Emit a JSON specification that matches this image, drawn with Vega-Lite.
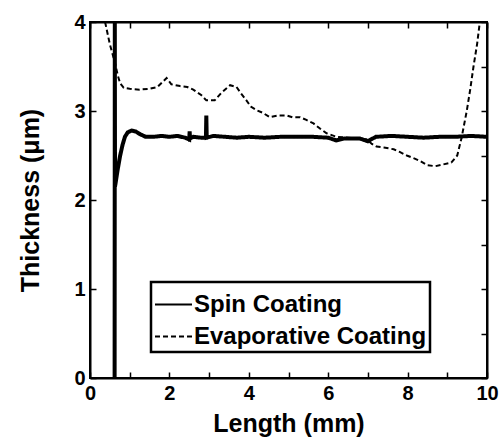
{
  "$schema": "https://vega.github.io/schema/vega-lite/v6.json",
  "autosize": {"type": "none"},
  "padding": {"left": 90, "top": 22, "right": 15, "bottom": 64},
  "width": 397,
  "height": 356,
  "background": "white",
  "config": {
    "view": {"stroke": "black", "strokeWidth": 2},
    "axis": {
      "labelFont": "Liberation Sans", "labelFontSize": 20, "labelFontWeight": "bold", "labelColor": "black",
      "titleFont": "Liberation Sans", "titleFontSize": 25, "titleFontWeight": "bold", "titleColor": "black",
      "grid": false, "labelOverlap": false, "labelFlush": false
    }
  },
  "data": {"values": [
    {"series": "Spin Coating", "x": 0.62, "y": 0},
    {"series": "Spin Coating", "x": 0.625, "y": 4.0},
    {"series": "Spin Coating", "x": 0.63, "y": 2.15},
    {"series": "Spin Coating", "x": 0.7, "y": 2.35},
    {"series": "Spin Coating", "x": 0.76, "y": 2.5},
    {"series": "Spin Coating", "x": 0.82, "y": 2.62},
    {"series": "Spin Coating", "x": 0.88, "y": 2.71},
    {"series": "Spin Coating", "x": 0.95, "y": 2.76},
    {"series": "Spin Coating", "x": 1.05, "y": 2.78},
    {"series": "Spin Coating", "x": 1.15, "y": 2.77},
    {"series": "Spin Coating", "x": 1.26, "y": 2.74},
    {"series": "Spin Coating", "x": 1.4, "y": 2.71},
    {"series": "Spin Coating", "x": 1.6, "y": 2.71},
    {"series": "Spin Coating", "x": 1.8, "y": 2.72},
    {"series": "Spin Coating", "x": 2.0, "y": 2.71},
    {"series": "Spin Coating", "x": 2.2, "y": 2.72},
    {"series": "Spin Coating", "x": 2.4, "y": 2.7},
    {"series": "Spin Coating", "x": 2.5, "y": 2.68},
    {"series": "Spin Coating", "x": 2.51, "y": 2.77},
    {"series": "Spin Coating", "x": 2.52, "y": 2.69},
    {"series": "Spin Coating", "x": 2.6, "y": 2.71},
    {"series": "Spin Coating", "x": 2.8, "y": 2.7},
    {"series": "Spin Coating", "x": 2.92, "y": 2.7},
    {"series": "Spin Coating", "x": 2.93, "y": 2.95},
    {"series": "Spin Coating", "x": 2.94, "y": 2.7},
    {"series": "Spin Coating", "x": 3.1, "y": 2.72},
    {"series": "Spin Coating", "x": 3.4, "y": 2.71},
    {"series": "Spin Coating", "x": 3.7, "y": 2.7},
    {"series": "Spin Coating", "x": 4.0, "y": 2.71},
    {"series": "Spin Coating", "x": 4.4, "y": 2.7},
    {"series": "Spin Coating", "x": 4.8, "y": 2.71},
    {"series": "Spin Coating", "x": 5.2, "y": 2.71},
    {"series": "Spin Coating", "x": 5.6, "y": 2.71},
    {"series": "Spin Coating", "x": 6.0, "y": 2.7},
    {"series": "Spin Coating", "x": 6.2, "y": 2.67},
    {"series": "Spin Coating", "x": 6.4, "y": 2.69},
    {"series": "Spin Coating", "x": 6.8, "y": 2.69},
    {"series": "Spin Coating", "x": 7.0, "y": 2.66},
    {"series": "Spin Coating", "x": 7.2, "y": 2.71},
    {"series": "Spin Coating", "x": 7.6, "y": 2.72},
    {"series": "Spin Coating", "x": 8.0, "y": 2.71},
    {"series": "Spin Coating", "x": 8.4, "y": 2.7},
    {"series": "Spin Coating", "x": 8.8, "y": 2.71},
    {"series": "Spin Coating", "x": 9.2, "y": 2.71},
    {"series": "Spin Coating", "x": 9.6, "y": 2.72},
    {"series": "Spin Coating", "x": 10.0, "y": 2.71},
    {"series": "Evaporative Coating", "x": 0.38, "y": 4.0},
    {"series": "Evaporative Coating", "x": 0.5, "y": 3.75},
    {"series": "Evaporative Coating", "x": 0.63, "y": 3.54},
    {"series": "Evaporative Coating", "x": 0.7, "y": 3.4},
    {"series": "Evaporative Coating", "x": 0.76, "y": 3.31},
    {"series": "Evaporative Coating", "x": 0.85, "y": 3.26},
    {"series": "Evaporative Coating", "x": 1.0, "y": 3.25},
    {"series": "Evaporative Coating", "x": 1.25, "y": 3.24},
    {"series": "Evaporative Coating", "x": 1.5, "y": 3.25},
    {"series": "Evaporative Coating", "x": 1.7, "y": 3.27},
    {"series": "Evaporative Coating", "x": 1.93, "y": 3.37},
    {"series": "Evaporative Coating", "x": 2.05, "y": 3.3},
    {"series": "Evaporative Coating", "x": 2.27, "y": 3.28},
    {"series": "Evaporative Coating", "x": 2.45, "y": 3.27},
    {"series": "Evaporative Coating", "x": 2.6, "y": 3.24},
    {"series": "Evaporative Coating", "x": 2.8, "y": 3.18},
    {"series": "Evaporative Coating", "x": 2.93, "y": 3.12},
    {"series": "Evaporative Coating", "x": 3.14, "y": 3.12},
    {"series": "Evaporative Coating", "x": 3.3, "y": 3.2},
    {"series": "Evaporative Coating", "x": 3.53, "y": 3.29},
    {"series": "Evaporative Coating", "x": 3.69, "y": 3.27},
    {"series": "Evaporative Coating", "x": 3.8, "y": 3.2},
    {"series": "Evaporative Coating", "x": 3.94, "y": 3.12},
    {"series": "Evaporative Coating", "x": 4.05, "y": 3.05},
    {"series": "Evaporative Coating", "x": 4.19, "y": 3.01},
    {"series": "Evaporative Coating", "x": 4.35, "y": 2.98},
    {"series": "Evaporative Coating", "x": 4.53, "y": 2.93},
    {"series": "Evaporative Coating", "x": 4.75, "y": 2.95},
    {"series": "Evaporative Coating", "x": 4.95, "y": 2.95},
    {"series": "Evaporative Coating", "x": 5.1, "y": 2.93},
    {"series": "Evaporative Coating", "x": 5.29, "y": 2.93},
    {"series": "Evaporative Coating", "x": 5.45, "y": 2.9},
    {"series": "Evaporative Coating", "x": 5.63, "y": 2.86},
    {"series": "Evaporative Coating", "x": 5.8, "y": 2.8},
    {"series": "Evaporative Coating", "x": 5.96, "y": 2.75},
    {"series": "Evaporative Coating", "x": 6.21, "y": 2.71},
    {"series": "Evaporative Coating", "x": 6.5, "y": 2.7},
    {"series": "Evaporative Coating", "x": 6.8, "y": 2.69},
    {"series": "Evaporative Coating", "x": 6.97, "y": 2.68},
    {"series": "Evaporative Coating", "x": 7.1, "y": 2.63},
    {"series": "Evaporative Coating", "x": 7.22, "y": 2.6},
    {"series": "Evaporative Coating", "x": 7.4, "y": 2.59},
    {"series": "Evaporative Coating", "x": 7.65, "y": 2.57},
    {"series": "Evaporative Coating", "x": 7.8, "y": 2.54},
    {"series": "Evaporative Coating", "x": 7.98, "y": 2.5},
    {"series": "Evaporative Coating", "x": 8.15, "y": 2.47},
    {"series": "Evaporative Coating", "x": 8.31, "y": 2.44},
    {"series": "Evaporative Coating", "x": 8.5, "y": 2.39},
    {"series": "Evaporative Coating", "x": 8.7, "y": 2.38},
    {"series": "Evaporative Coating", "x": 8.9, "y": 2.4},
    {"series": "Evaporative Coating", "x": 9.1, "y": 2.42},
    {"series": "Evaporative Coating", "x": 9.25, "y": 2.5},
    {"series": "Evaporative Coating", "x": 9.36, "y": 2.7},
    {"series": "Evaporative Coating", "x": 9.49, "y": 3.0},
    {"series": "Evaporative Coating", "x": 9.58, "y": 3.25},
    {"series": "Evaporative Coating", "x": 9.66, "y": 3.5},
    {"series": "Evaporative Coating", "x": 9.75, "y": 3.75},
    {"series": "Evaporative Coating", "x": 9.82, "y": 4.0}
  ]},
  "resolve": {"axis": {"x": "independent", "y": "independent"}},
  "layer": [
    {
      "transform": [{"filter": "datum.series == 'Evaporative Coating'"}],
      "mark": {"type": "line", "color": "black", "strokeWidth": 2, "clip": true},
      "encoding": {
        "x": {"field": "x", "type": "quantitative", "scale": {"domain": [0, 10], "nice": false},
          "axis": {"orient": "bottom", "title": "Length (mm)", "values": [0,1,2,3,4,5,6,7,8,9,10], "format": "d",
            "ticks": true, "tickSize": -6, "tickColor": "black", "tickWidth": 1.5, "domain": true, "domainColor": "black", "domainWidth": 2, "zindex": 2,
            "labelExpr": "datum.value % 2 == 0 ? datum.label : ''", "labelPadding": 11, "titlePadding": 8}},
        "y": {"field": "y", "type": "quantitative", "scale": {"domain": [0, 4], "nice": false},
          "axis": {"orient": "left", "title": "Thickness (μm)", "values": [0,0.5,1,1.5,2,2.5,3,3.5,4], "format": "d",
            "ticks": true, "tickSize": -6, "tickColor": "black", "tickWidth": 1.5, "domain": true, "domainColor": "black", "domainWidth": 2, "zindex": 2,
            "labelExpr": "datum.value % 1 == 0 ? datum.label : ''", "labelPadding": 11, "titlePadding": 30}},
        "strokeDash": {"field": "series", "type": "nominal",
          "scale": {"domain": ["Spin Coating", "Evaporative Coating"], "range": [[1, 0], [5, 3]]},
          "legend": {"title": null, "orient": "none", "legendX": 61, "legendY": 260,
            "symbolType": "stroke", "symbolSize": 1369, "symbolStrokeWidth": 2, "symbolStrokeColor": "black",
            "labelFont": "Liberation Sans", "labelFontSize": 24, "labelFontWeight": "bold", "labelColor": "black",
            "labelOffset": 1, "rowPadding": -3, "padding": 3, "strokeColor": "black", "fillColor": "white",
            "labelLimit": 400,
            "encode": {"legend": {"update": {"strokeWidth": {"value": 2.5}}}}}
        }
      }
    },
    {
      "transform": [{"filter": "datum.series == 'Spin Coating'"}],
      "mark": {"type": "line", "color": "black", "strokeWidth": 4, "clip": true},
      "encoding": {
        "x": {"field": "x", "type": "quantitative",
          "axis": {"orient": "top", "title": null, "labels": false, "values": [0,1,2,3,4,5,6,7,8,9,10],
            "ticks": true, "tickSize": -6, "tickColor": "black", "tickWidth": 1.5, "domain": true, "domainColor": "black", "domainWidth": 2, "zindex": 2}},
        "y": {"field": "y", "type": "quantitative",
          "axis": {"orient": "right", "title": null, "labels": false, "values": [0,0.5,1,1.5,2,2.5,3,3.5,4],
            "ticks": true, "tickSize": -6, "tickColor": "black", "tickWidth": 1.5, "domain": true, "domainColor": "black", "domainWidth": 2, "zindex": 2}},
        "strokeDash": {"field": "series", "type": "nominal"}
      }
    }
  ]
}
